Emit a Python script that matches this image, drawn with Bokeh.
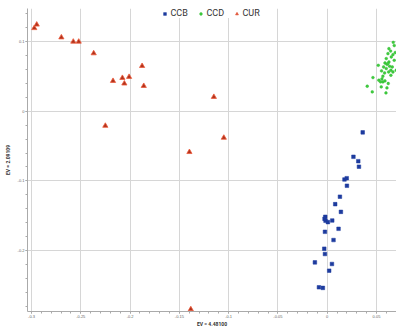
from bokeh.plotting import figure
from bokeh.models import (Legend, LegendItem, SingleIntervalTicker,
                          CustomJSTickFormatter, Range1d)
from bokeh.embed import file_html
from bokeh.resources import INLINE

# ---- data ----
cur_x = [-0.2972, -0.2947, -0.2697, -0.2576, -0.2521, -0.2369, -0.2173, -0.2078, -0.2058,
         -0.2010, -0.1878, -0.1861, -0.2251, -0.1398, -0.1150, -0.1049, -0.1384]
cur_y = [0.1190, 0.1240, 0.1057, 0.0996, 0.0996, 0.0829, 0.0433, 0.0476, 0.0396,
         0.0491, 0.0647, 0.0361, -0.0210, -0.0586, 0.0204, -0.0381, -0.2839]

ccb_x = [0.0360, 0.0266, 0.0315, 0.0322, 0.0175, 0.0198, 0.0200, 0.0129, 0.0081, 0.0139,
         -0.0020, -0.0027, -0.0017, 0.0007, 0.0051, -0.0023, 0.0115, 0.0064, -0.0030,
         -0.0023, -0.0125, 0.0048, 0.0020, -0.0084, -0.0044]
ccb_y = [-0.0304, -0.0654, -0.0717, -0.0796, -0.0979, -0.0961, -0.1069, -0.1226, -0.1333,
         -0.1443, -0.1514, -0.1543, -0.1571, -0.1590, -0.1567, -0.1729, -0.1686, -0.1847,
         -0.1971, -0.2047, -0.2167, -0.2190, -0.2286, -0.2524, -0.2533]

ccd_x = [0.0626, 0.0643, 0.0616, 0.0667, 0.0650, 0.0599, 0.0680, 0.0626, 0.0586, 0.0606,
         0.0518, 0.0633, 0.0572, 0.0660, 0.0599, 0.0646, 0.0551, 0.0623, 0.0582, 0.0646,
         0.0464, 0.0555, 0.0524, 0.0586, 0.0565, 0.0619, 0.0406, 0.0548, 0.0606, 0.0457,
         0.0596, 0.0690, 0.0700, 0.0680, 0.0670, 0.0616, 0.0565, 0.0667, 0.0541]
ccd_y = [0.0896, 0.0861, 0.0824, 0.0810, 0.0776, 0.0753, 0.0729, 0.0704, 0.0690, 0.0671,
         0.0657, 0.0643, 0.0633, 0.0633, 0.0610, 0.0586, 0.0576, 0.0561, 0.0547, 0.0514,
         0.0481, 0.0461, 0.0443, 0.0433, 0.0419, 0.0396, 0.0357, 0.0347, 0.0333, 0.0276,
         0.0261, 0.0840, 0.0586, 0.0940, 0.0986, 0.0681, 0.0500, 0.0561, 0.0419]

series_names = ["CCB", "CCD", "CUR"]
x_title = "EV = 4.48100"
y_title = "EV = 2.09109"

p = figure(width=396, height=329, output_backend="svg", toolbar_location=None,
           x_range=Range1d(-0.30406, 0.07029), y_range=Range1d(-0.2871, 0.1471),
           min_border_left=27, min_border_right=0, min_border_top=8, min_border_bottom=15)
p.outline_line_color = None

r_ccb = p.scatter(ccb_x, ccb_y, marker="square", size=3.6, fill_color="#1d3b9e",
                  line_color="#1d3b9e", line_width=0.5)
r_ccd = p.scatter(ccd_x, ccd_y, marker="circle", size=2.8, fill_color="#3fcc3f",
                  line_color="#2fb82f", line_width=0.4)
r_cur = p.scatter(cur_x, cur_y, marker="triangle", size=5.2, fill_color="#b0331d",
                  line_color="#ee5b3b", line_width=0.8)

p.xaxis[0].ticker = SingleIntervalTicker(interval=0.05, num_minor_ticks=5)
p.yaxis[0].ticker = SingleIntervalTicker(interval=0.1, num_minor_ticks=5)
p.xgrid[0].ticker = p.xaxis[0].ticker
p.ygrid[0].ticker = p.yaxis[0].ticker
p.xgrid[0].grid_line_color = "#d6d6d6"
p.ygrid[0].grid_line_color = "#d6d6d6"

for ax, title in ((p.xaxis[0], x_title), (p.yaxis[0], y_title)):
    ax.axis_label = title
    ax.axis_label_text_font = "Roboto"
    ax.axis_label_text_font_size = "5px"
    ax.axis_label_text_font_style = "bold"
    ax.axis_label_text_color = "#333333"
    ax.axis_label_standoff = 0
    ax.major_label_text_font_size = "4px"
    ax.major_label_text_color = "#666666"
    ax.major_label_standoff = 1
    ax.axis_line_color = "#aaaaaa"
    ax.major_tick_line_color = "#aaaaaa"
    ax.minor_tick_line_color = "#aaaaaa"
    ax.major_tick_out = 2
    ax.major_tick_in = 0
    ax.minor_tick_out = 2
    ax.minor_tick_in = 0
    ax.formatter = CustomJSTickFormatter(code="return Number(tick.toFixed(2)).toString();")
p.yaxis[0].axis_label_standoff = 4

legend = Legend(items=[LegendItem(label=series_names[0], renderers=[r_ccb]),
                       LegendItem(label=series_names[1], renderers=[r_ccd]),
                       LegendItem(label=series_names[2], renderers=[r_cur])],
                orientation="horizontal", location="top_center",
                label_text_font="Roboto", label_text_font_size="9px",
                label_text_color="#333333", label_height=9, glyph_height=9,
                glyph_width=7, label_standoff=3, spacing=6, padding=2, margin=0,
                border_line_color=None, background_fill_color="white",
                background_fill_alpha=1)
p.add_layout(legend)

open("out.html", "w").write(file_html(p, INLINE))
